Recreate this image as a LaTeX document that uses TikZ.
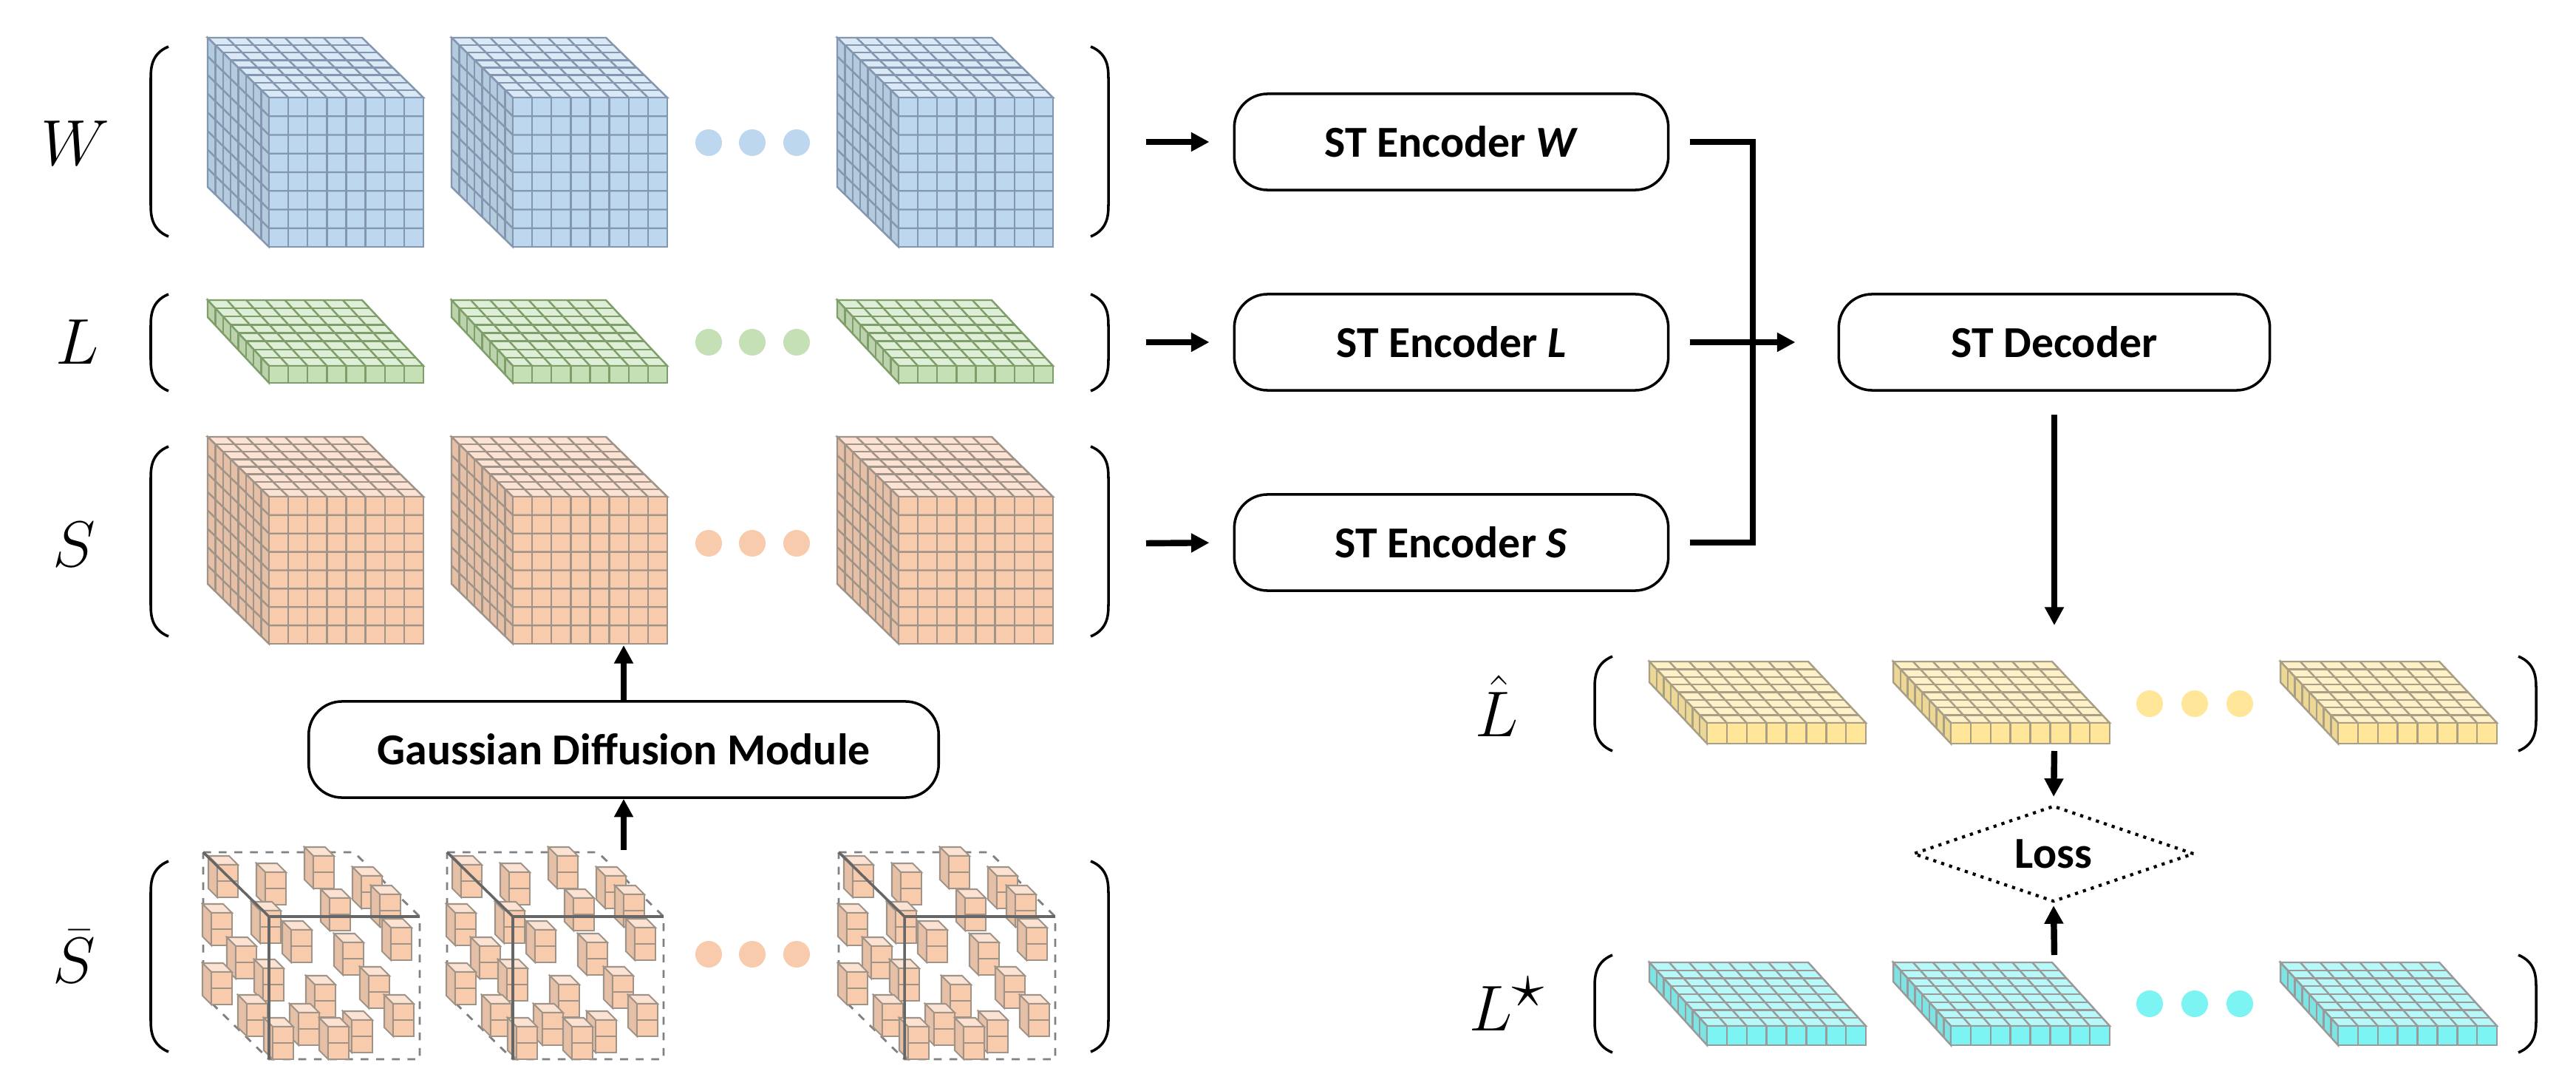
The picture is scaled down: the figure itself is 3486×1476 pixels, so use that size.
\documentclass[tikz,border=0pt]{standalone}
\usepackage{fontspec}
\newfontfamily\carl{Carlito}
\usetikzlibrary{arrows.meta,shapes.geometric}
\definecolor{wb}{HTML}{BDD7EE}\definecolor{wl}{HTML}{8497B0}
\definecolor{lg}{HTML}{C5E0B4}\definecolor{ll}{HTML}{7F9F6A}
\definecolor{so}{HTML}{F8CBAD}\definecolor{sl}{HTML}{A09488}
\definecolor{ly}{HTML}{FFE699}\definecolor{lyl}{HTML}{A89F86}
\definecolor{lc}{HTML}{7CF4F4}\definecolor{lcl}{HTML}{9A9A9A}
\newcommand\blk[9]{%
\begin{scope}[line width=0.7pt, draw=#9]
\filldraw[fill=#8!55!white] (#1,#2) -- ++(#3,0) -- ++(-#5,-#6) -- ++(-#3,0) -- cycle;
\filldraw[fill=#8!85!gray] (#1,#2) -- ++(0,#4) -- ++(-#5,-#6) -- ++(0,-#4) -- cycle;
\filldraw[fill=#8] (#1,#2) rectangle ++(#3,#4);
\foreach \i in {1,...,7}{
 \draw ({#1+\i*#3/8},#2) -- ++(0,#4);
 \draw ({#1+\i*#3/8},#2) -- ++(-#5,-#6);
 \draw ({#1-\i*#5/8},{#2-\i*#6/8}) -- ++(#3,0);
 \draw ({#1-\i*#5/8},{#2-\i*#6/8}) -- ++(0,#4);}
\ifnum#7>1 \foreach \j in {2,...,#7}{\draw (#1,{#2+(\j-1)*#4/#7}) -- ++(#3,0) (#1,{#2+(\j-1)*#4/#7}) -- ++(-#5,-#6);}\fi
\end{scope}}
\newcommand\mini[2]{%
\begin{scope}[line width=0.6pt, draw=sl]
\filldraw[fill=so!55!white] (#1,#2) -- ++(28,0) -- ++(-12,-12) -- ++(-28,0) -- cycle;
\filldraw[fill=so!85!gray] (#1,#2) -- ++(0,44) -- ++(-12,-12) -- ++(0,-44) -- cycle;
\filldraw[fill=so] (#1,#2) rectangle ++(28,44);
\draw (#1,{#2+22}) -- ++(28,0);
\end{scope}}
\newcommand\sparse[2]{% front-left-top x,y of dashed cube
\begin{scope}[shift={(#1,#2)}]
\draw[gray,dashed,line width=0.8pt] (-89,-87) -- (115,-87) -- (204,0) -- (204,193) -- (0,193) -- (-89,106) -- cycle;
\foreach \p/\q in {-70/-70,-5/-60,60/-82,125/-55,-78/-5,-12/-8,82/-25,150/-30,-45/40,30/18,100/35,165/15,-78/75,-8/70,62/92,135/80,-30/118,40/130,112/140,168/118,5/149,80/149}{\mini{\p}{\q}}
\draw[gray!80!black,line width=1pt] (-89,-87) -- (0,0) -- (204,0) (0,0) -- (0,193);
\end{scope}}
\newcommand\lbr[3]{\draw[line width=1pt] ({#1+24},#2) .. controls (#1,{#2+10}) and (#1,{#2+30}) .. (#1,{#2+45}) -- (#1,{#3-45}) .. controls (#1,{#3-30}) and (#1,{#3-10}) .. ({#1+24},#3);}
\newcommand\rbr[3]{\draw[line width=1pt] ({#1-24},#2) .. controls (#1,{#2+10}) and (#1,{#2+30}) .. (#1,{#2+45}) -- (#1,{#3-45}) .. controls (#1,{#3-30}) and (#1,{#3-10}) .. ({#1-24},#3);}
\tikzset{
 box/.style={draw,line width=1pt,rounded corners=0.45cm,minimum height=1.3cm,font=\carl\bfseries\fontsize{17}{20}\selectfont},
 lab/.style={font=\fontsize{33}{36}\selectfont},
 arr/.style={line width=2.4pt,-{Triangle[length=7pt,width=7pt]}},
 ln/.style={line width=2.4pt}}
\begin{document}
\begin{tikzpicture}[x=0.01cm,y=-0.01cm]
\useasboundingbox[fill=white] (0,0) rectangle (3486,1476);
% W
\foreach \x in {364,694,1216}{\blk{\x}{132}{209}{202}{83}{81}{8}{wb}{wl}}
\foreach \x in {959,1018,1078}{\fill[wb] (\x,193) circle (18);}
\lbr{204}{63}{320}\rbr{1500}{63}{320}
\node[lab] (lw) at (102,194) {$W$};
% L
\foreach \x in {364,694,1216}{\blk{\x}{495}{209}{23}{83}{89}{1}{lg}{ll}}
\foreach \x in {959,1018,1078}{\fill[lg] (\x,463) circle (18);}
\lbr{204}{398}{529}\rbr{1500}{398}{529}
\node[lab] (ll) at (105,463) {$L$};
% S
\foreach \x in {364,694,1216}{\blk{\x}{672}{209}{199}{83}{81}{8}{so}{sl}}
\foreach \x in {959,1018,1078}{\fill[so] (\x,735) circle (18);}
\lbr{204}{604}{861}\rbr{1500}{604}{861}
\node[lab] (ls) at (100,737) {$S$};
% Sbar
\foreach \x in {364,694,1224}{\sparse{\x}{1240}}
\foreach \x in {959,1018,1078}{\fill[so] (\x,1291) circle (18);}
\lbr{204}{1165}{1423}\rbr{1500}{1165}{1423}
\node[lab] (lsb) at (100,1294) {$\bar S$};
% Lhat
\foreach \x in {2310,2640,3164}{\blk{\x}{978}{215}{28}{78}{83}{1}{ly}{lyl}}
\foreach \x in {2909,2970,3031}{\fill[ly] (\x,952) circle (18);}
\lbr{2158}{888}{1016}\rbr{3432}{888}{1016}
\node[lab] (llh) at (2026,955) {$\hat L$};
% Lstar
\foreach \x in {2310,2640,3164}{\blk{\x}{1388}{215}{26}{78}{86}{1}{lc}{lcl}}
\foreach \x in {2909,2970,3031}{\fill[lc] (\x,1358) circle (18);}
\lbr{2158}{1292}{1424}\rbr{3432}{1292}{1424}
\node[lab] (lls) at (2040,1358) {$L^{\star}$};
% boxes
\node[box,minimum width=5.87cm] (encW) at (1964,192) {ST Encoder \textit{W}};
\node[box,minimum width=5.87cm] (encL) at (1964,463) {ST Encoder \textit{L}};
\node[box,minimum width=5.87cm] (encS) at (1964,734) {ST Encoder \textit{S}};
\node[box,minimum width=5.83cm] (dec) at (2780,463) {ST Decoder};
\node[box,minimum width=8.52cm] (gdm) at (844,1014) {Gaussian Diffusion Module};
\node[draw,dotted,line width=1.2pt,shape=diamond,aspect=2.9,minimum width=3.8cm,minimum height=1.3cm,inner sep=0pt,font=\carl\bfseries\fontsize{17}{20}\selectfont] (loss) at (2779,1155) {Loss};
% coordinates
\coordinate (aW) at (1551,192);\coordinate (aL) at (1551,463);\coordinate (aS) at (1551,735);
\coordinate (jn) at (2372,463);
\coordinate (sBot) at (844,873);\coordinate (sbTop) at (844,1150);
\coordinate (lhTop) at (2780,846);\coordinate (lhBot) at (2780,1016);\coordinate (lsTop) at (2780,1292);
% connectors
\draw[arr,shorten >=0.32cm] (aW) -- (encW.west);
\draw[arr,shorten >=0.32cm] (aL) -- (encL.west);
\draw[arr,shorten >=0.32cm] (aS) -- (encS.west);
\draw[ln] ([xshift=0.28cm]encW.east) -| (jn);
\draw[ln] ([xshift=0.28cm]encS.east) -| (jn);
\draw[arr,shorten <=0.28cm,shorten >=0.57cm] (encL.east) -- (dec.west);
\draw[arr,shorten <=0.31cm] (dec.south) -- (lhTop);
\draw[arr,shorten >=0.1cm] (lhBot) -- (loss.north);
\draw[arr,shorten >=0.03cm] (lsTop) -- (loss.south);
\draw[arr] (gdm.north) -- (sBot);
\draw[arr] (sbTop) -- (gdm.south);
\end{tikzpicture}
\end{document}
